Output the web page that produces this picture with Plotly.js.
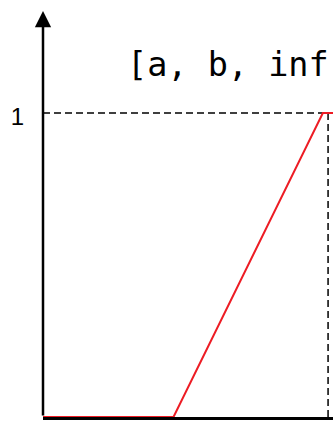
<!DOCTYPE html>
<html>
<head>
<meta charset="utf-8">
<script src="https://cdn.plot.ly/plotly-3.0.1.min.js"></script>
<style>
  html, body { margin: 0; padding: 0; background: #fff; }
  #chart { width: 333px; height: 421px; }
  #textlog { position: absolute; left: 60px; top: 150px; width: 260px; font: 10px monospace; color: transparent; pointer-events: none; }
</style>
</head>
<body>
<div id="chart"></div>
<div id="textlog"></div>
<script>
// Trapezoidal membership function [a, b, inf, inf]: 0 up to a, rising to 1 at b, then flat.
var paramA = 4.5;
var paramB = 9.65;
var xEnd = 10;
var membershipX = [0, paramA, paramB, xEnd];
var membershipY = [0, 0, 1, 1];

// Guide lines: the level 1 and the right-hand marker.
var guideLevel = 1;
var guideX = 9.83;
var levelX = [0, paramB];
var levelY = [guideLevel, guideLevel];
var markerX = [guideX, guideX];
var markerY = [guideLevel, 0];

var yTickVals = [1];
var yTickText = ['1'];
var yTop = 1.372;
var arrowTipY = 1.336;
var label = '[a, b, inf, inf]';

var traces = [
  { x: levelX, y: levelY, mode: 'lines', line: { color: '#000', width: 1.5, dash: '7px,4px' } },
  { x: markerX, y: markerY, mode: 'lines', line: { color: '#000', width: 1.5, dash: '7px,4px' } },
  { x: membershipX, y: membershipY, mode: 'lines', line: { color: 'rgb(237,28,36)', width: 2 } }
];

var layout = {
  width: 333, height: 421,
  margin: { l: 43, r: 0, t: 0, b: 4 },
  showlegend: false,
  font: { family: 'Liberation Sans', size: 24, color: '#000' },
  xaxis: {
    range: [0, xEnd], showgrid: false, zeroline: false,
    showticklabels: false, ticks: '',
    showline: true, linewidth: 3, linecolor: '#000'
  },
  yaxis: {
    range: [0, yTop], showgrid: false, zeroline: false, showline: false,
    tickmode: 'array', tickvals: yTickVals, ticktext: yTickText,
    ticks: 'outside', ticklen: 13, tickcolor: 'rgba(0,0,0,0)',
    ticklabelshift: 4, automargin: false,
    tickfont: { family: 'Liberation Sans', size: 24, color: '#000' }
  },
  annotations: [
    {
      // vertical axis drawn as an arrow
      x: 0, y: arrowTipY, xref: 'x', yref: 'y',
      ax: 0, ay: 0, axref: 'x', ayref: 'y',
      text: '', showarrow: true, arrowhead: 2, arrowsize: 1.3,
      arrowwidth: 2.5, arrowcolor: '#000', standoff: 0
    },
    {
      x: 0.283, y: 1.16, xref: 'paper', yref: 'y',
      xanchor: 'left', yanchor: 'middle', showarrow: false,
      text: label,
      font: { family: 'DejaVu Sans Mono', size: 33.5, color: '#000' }
    }
  ]
};

// After drawing, measure every text node (forces a layout pass) and keep a hidden log of it.
Plotly.newPlot('chart', traces, layout, { staticPlot: true }).then(function () {
  var out = [];
  document.querySelectorAll('#chart text').forEach(function (t) {
    var b = t.getBoundingClientRect();
    out.push('"' + t.textContent + '" ' + Math.round(b.left) + ',' + Math.round(b.top) + ' ' +
      Math.round(b.width) + 'x' + Math.round(b.height));
  });
  document.getElementById('textlog').textContent = out.join(' | ');
});
</script>
</body>
</html>
